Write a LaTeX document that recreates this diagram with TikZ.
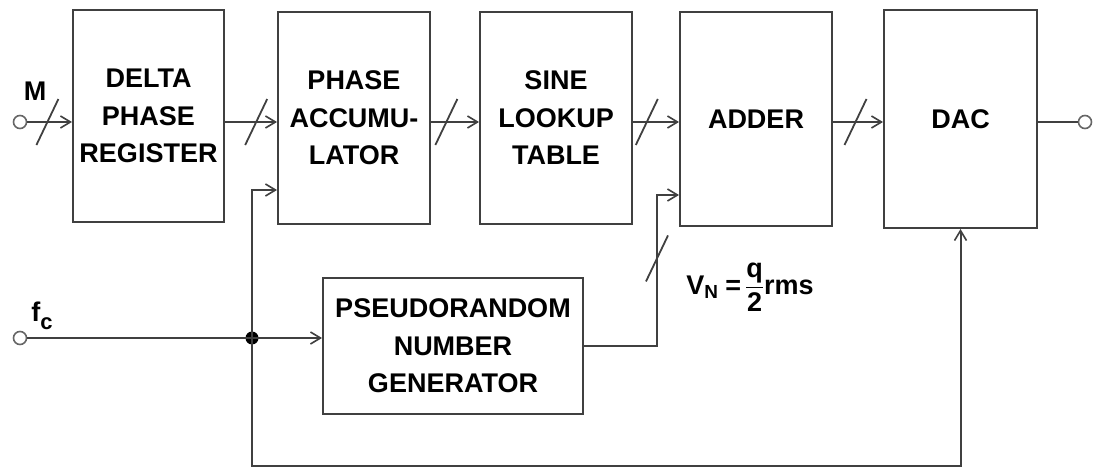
\documentclass[tikz,border=0pt]{standalone}
\usepackage{amsmath}
\usepackage{fontspec}
\setmainfont{Liberation Sans}
\usetikzlibrary{arrows.meta}

\begin{document}
\begin{tikzpicture}[x=1pt, y=-1pt, color=black!75, line width=2pt,
		block/.style={draw, line width=2pt, text=black, align=center, inner sep=0pt, font=\fontsize{27}{37.5}\selectfont\bfseries},
		lbl/.style={text=black, inner sep=0pt, font=\fontsize{27}{30}\selectfont\bfseries},
		sig/.style={line width=2pt, -{Straight Barb[length=10pt, width=12pt, line width=1.6pt]}},
		term/.style={circle, draw=black!60, fill=white, line width=1.6pt, minimum size=13pt, inner sep=0pt},
		dot/.style={circle, fill=black, minimum size=13pt, inner sep=0pt},
		slash/.pic={\draw[-, line width=1.8pt] (-11,23) -- (11,-23);}]
				\useasboundingbox (0,0) rectangle (1094,470);
				\node (delta) at (148.5,116) [block, minimum width=151pt, minimum height=212pt] {DELTA\\PHASE\\REGISTER};
				\node (phase) at (354,118) [block, minimum width=152pt, minimum height=212pt] {PHASE\\ACCUMU-\\LATOR};
				\node (sine) at (556,118) [block, minimum width=152pt, minimum height=212pt] {SINE\\LOOKUP\\TABLE};
				\node (adder) at (756,119) [block, minimum width=152pt, minimum height=214pt] {ADDER};
				\node (dac) at (960.5,119) [block, minimum width=153pt, minimum height=218pt] {DAC};
				\node (prng) at (453,346) [block, minimum width=260pt, minimum height=136pt] {PSEUDORANDOM\\NUMBER\\GENERATOR};
				\node (m) at (20,122) [term] {};
				\node (fc) at (20,338) [term] {};
				\node (out) at (1085,122) [term] {};
				\node (jn) at (252,338) [dot] {};
				\node (mlbl) at (35,91) [lbl] {M};
				\node (fclbl) at (42,316) [lbl] {f\raisebox{-0.3em}{\fontsize{22}{24}\selectfont c}};
				\node (vn) at (750,287) [lbl] {$\textbf{V}_{\textbf{N}}\;\textbf{=}\,\dfrac{\textbf{q}}{\textbf{2}}\textbf{rms}$};
				\coordinate (accin) at ([yshift=-72pt]phase.west);
				\coordinate (addin) at ([yshift=-76pt]adder.west);
				\coordinate (nk) at (657,346);
				\coordinate (corner) at (252,466);
				
				\draw[sig] (m) -- pic[pos=.45]{slash} (m -| delta.west);
				\draw[sig] (delta.east |- m) -- pic[pos=.6]{slash} (phase.west |- m);
				\draw[sig] (phase.east |- m) -- pic[pos=.32]{slash} (sine.west |- m);
				\draw[sig] (sine.east |- m) -- pic[pos=.3]{slash} (adder.west |- m);
				\draw[sig] (adder.east |- m) -- pic[pos=.45]{slash} (dac.west |- m);
				\draw[line width=2pt] (dac.east |- out) -- (out);
				\draw[sig] (fc) -- (fc -| prng.west);
				\draw[sig] (jn.center) |- (accin);
				\draw[sig] (jn.center) -- (corner) -| (dac.south);
				\draw[sig] (prng.east) -- (nk) -- pic[pos=.58]{slash} (nk |- addin) -- (addin);
			\end{tikzpicture}
\end{document}
